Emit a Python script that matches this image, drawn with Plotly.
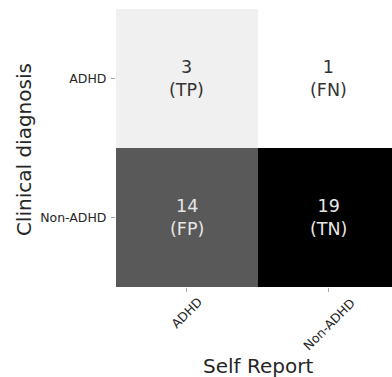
import plotly.graph_objects as go

# Confusion matrix: clinical diagnosis (rows) vs. self report (columns)
row_labels = ["ADHD", "Non-ADHD"]
col_labels = ["ADHD", "Non-ADHD"]
counts = [[3, 1],
          [14, 19]]
outcomes = [["TP", "FN"],
            ["FP", "TN"]]

# Greyscale map keyed to the counts
vmin, vmax = 1, 19
def pos(v):
    return (v - vmin) / (vmax - vmin)

colorscale = [
    [pos(1), "#ffffff"],
    [pos(3), "#f0f0f0"],
    [pos(14), "#595959"],
    [pos(19), "#000000"],
]

FONT = "DejaVu Sans"

fig = go.Figure()
fig.add_trace(go.Heatmap(
    z=counts,
    x=col_labels,
    y=row_labels,
    zmin=vmin, zmax=vmax,
    colorscale=colorscale,
    showscale=False,
    hoverinfo="skip",
))

# Cell labels: count plus outcome type
annotations = []
for i, r in enumerate(row_labels):
    for j, c in enumerate(col_labels):
        v = counts[i][j]
        color = "#333333" if pos(v) < 0.5 else "#e6e6e6"
        annotations.append(dict(
            x=c, y=r, xref="x", yref="y",
            text=f"{v}<br>({outcomes[i][j]})",
            showarrow=False,
            font=dict(family=FONT, size=17.5, color=color),
        ))

# Rotated column labels hanging below their ticks; the centre of each
# rotated label drops with its length so all tops line up
label_font = 12.5
char_w = 0.68 * label_font
for c in col_labels:
    diag = (len(c) * char_w + label_font) * 0.7071
    top_px = 9  # gap below the axis
    centre_px = top_px + diag / 2
    annotations.append(dict(
        x=c, xref="x", y=-centre_px / 278, yref="paper",
        text=c, textangle=-45, showarrow=False,
        xanchor="center", yanchor="middle",
        font=dict(family=FONT, size=label_font, color="#262626"),
    ))

# Axis titles
annotations.append(dict(
    x=0.5145, xref="paper", y=-0.284, yref="paper",
    text="Self Report", showarrow=False,
    xanchor="center", yanchor="middle",
    font=dict(family=FONT, size=20, color="#262626"),
))
annotations.append(dict(
    x=-0.333, xref="paper", y=0.4928, yref="paper",
    text="Clinical diagnosis", showarrow=False, textangle=-90,
    xanchor="center", yanchor="middle",
    font=dict(family=FONT, size=20, color="#262626"),
))

fig.update_layout(
    width=392, height=377,
    margin=dict(l=116, r=0, t=9, b=90),
    paper_bgcolor="white",
    plot_bgcolor="white",
    annotations=annotations,
    showlegend=False,
)
fig.update_xaxes(
    type="category",
    range=[-0.5, 1.444],
    showticklabels=False,
    ticks="outside", ticklen=4, tickwidth=1, tickcolor="#aaaaaa",
    showgrid=False, zeroline=False, showline=False,
)
fig.update_yaxes(
    type="category",
    autorange="reversed",
    ticks="outside", ticklen=4, tickwidth=1, tickcolor="#aaaaaa",
    ticklabelstandoff=2,
    tickfont=dict(family=FONT, size=12.5, color="#262626"),
    showgrid=False, zeroline=False, showline=False,
)

fig.write_html("out.html")
